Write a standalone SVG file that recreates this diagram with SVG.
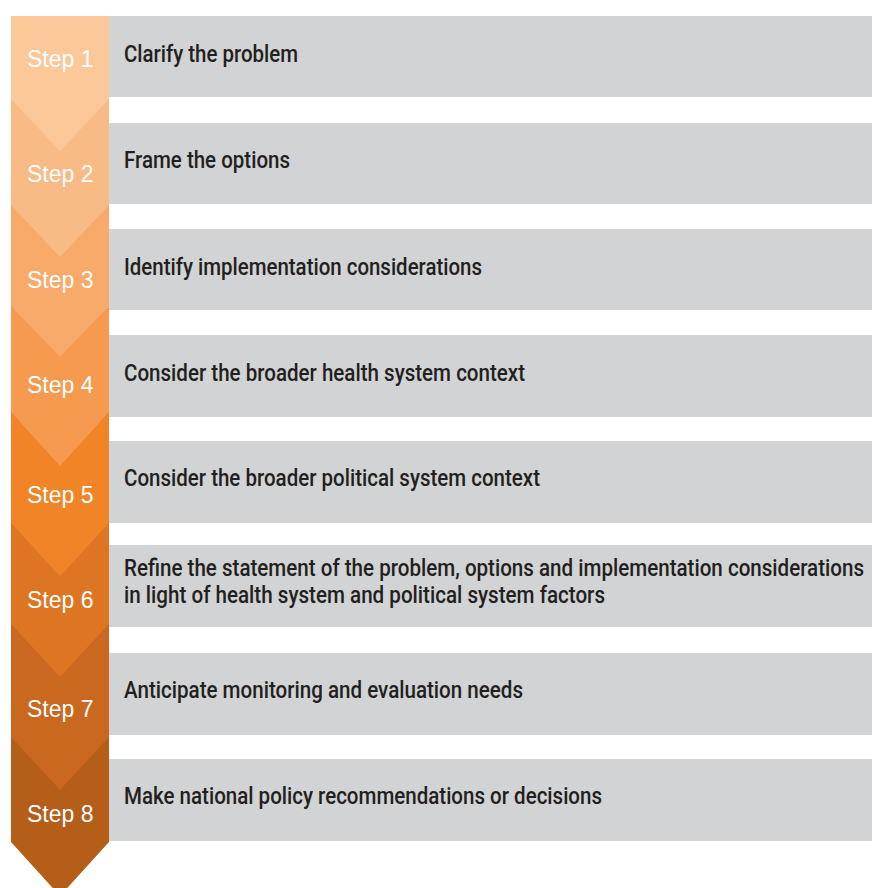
<svg xmlns="http://www.w3.org/2000/svg" width="872" height="888" viewBox="0 0 872 888">
<style>
.bar{fill:#d1d3d4}
.step{font-family:"Liberation Sans",Arial,sans-serif;font-size:23px;fill:#ffffff}
.task{font-family:Roboto,"Liberation Sans",sans-serif;font-size:23px;font-weight:500;fill:#231f20}
</style>
<rect width="872" height="888" fill="#ffffff"/>
<g id="step8">
<rect class="bar" x="109" y="759" width="763" height="82"/>
<polygon fill="#b45e19" points="11,737 109,737 109,842 60,896 11,842"/>
<text class="step" x="27" y="822">Step 8</text>
<text class="task" x="124" y="804" textLength="478" lengthAdjust="spacingAndGlyphs">Make national policy recommendations or decisions</text>
</g>
<g id="step7">
<rect class="bar" x="109" y="653" width="763" height="82"/>
<polygon fill="#c9681e" points="11,624 109,624 109,737 60,790 11,737"/>
<text class="step" x="27" y="717">Step 7</text>
<text class="task" x="124" y="698" textLength="399" lengthAdjust="spacingAndGlyphs">Anticipate monitoring and evaluation needs</text>
</g>
<g id="step6">
<rect class="bar" x="109" y="545" width="763" height="82"/>
<polygon fill="#de7522" points="11,523 109,523 109,624 60,677 11,624"/>
<text class="step" x="27" y="608">Step 6</text>
<text class="task" x="124" y="576" textLength="740" lengthAdjust="spacingAndGlyphs">Refine the statement of the problem, options and implementation considerations</text>
<text class="task" x="124" y="603" textLength="481" lengthAdjust="spacingAndGlyphs">in light of health system and political system factors</text>
</g>
<g id="step5">
<rect class="bar" x="109" y="441" width="763" height="82"/>
<polygon fill="#f08427" points="11,412 109,412 109,523 60,576 11,523"/>
<text class="step" x="27" y="503">Step 5</text>
<text class="task" x="124" y="486" textLength="416" lengthAdjust="spacingAndGlyphs">Consider the broader political system context</text>
</g>
<g id="step4">
<rect class="bar" x="109" y="335" width="763" height="82"/>
<polygon fill="#f59a4e" points="11,306 109,306 109,412 60,466 11,412"/>
<text class="step" x="27" y="393">Step 4</text>
<text class="task" x="124" y="381" textLength="401" lengthAdjust="spacingAndGlyphs">Consider the broader health system context</text>
</g>
<g id="step3">
<rect class="bar" x="109" y="229" width="763" height="81"/>
<polygon fill="#f8aa6a" points="11,205 109,205 109,306 60,357 11,306"/>
<text class="step" x="27" y="288">Step 3</text>
<text class="task" x="124" y="275" textLength="358" lengthAdjust="spacingAndGlyphs">Identify implementation considerations</text>
</g>
<g id="step2">
<rect class="bar" x="109" y="123" width="763" height="81"/>
<polygon fill="#f9bb86" points="11,99 109,99 109,205 60,257 11,205"/>
<text class="step" x="27" y="182">Step 2</text>
<text class="task" x="124" y="168" textLength="166" lengthAdjust="spacingAndGlyphs">Frame the options</text>
</g>
<g id="step1">
<rect class="bar" x="109" y="16" width="763" height="81"/>
<polygon fill="#fcc899" points="11,16 109,16 109,99 60,151 11,99"/>
<text class="step" x="27" y="67">Step 1</text>
<text class="task" x="124" y="62" textLength="174" lengthAdjust="spacingAndGlyphs">Clarify the problem</text>
</g>
<g id="connectors"/>
</svg>
